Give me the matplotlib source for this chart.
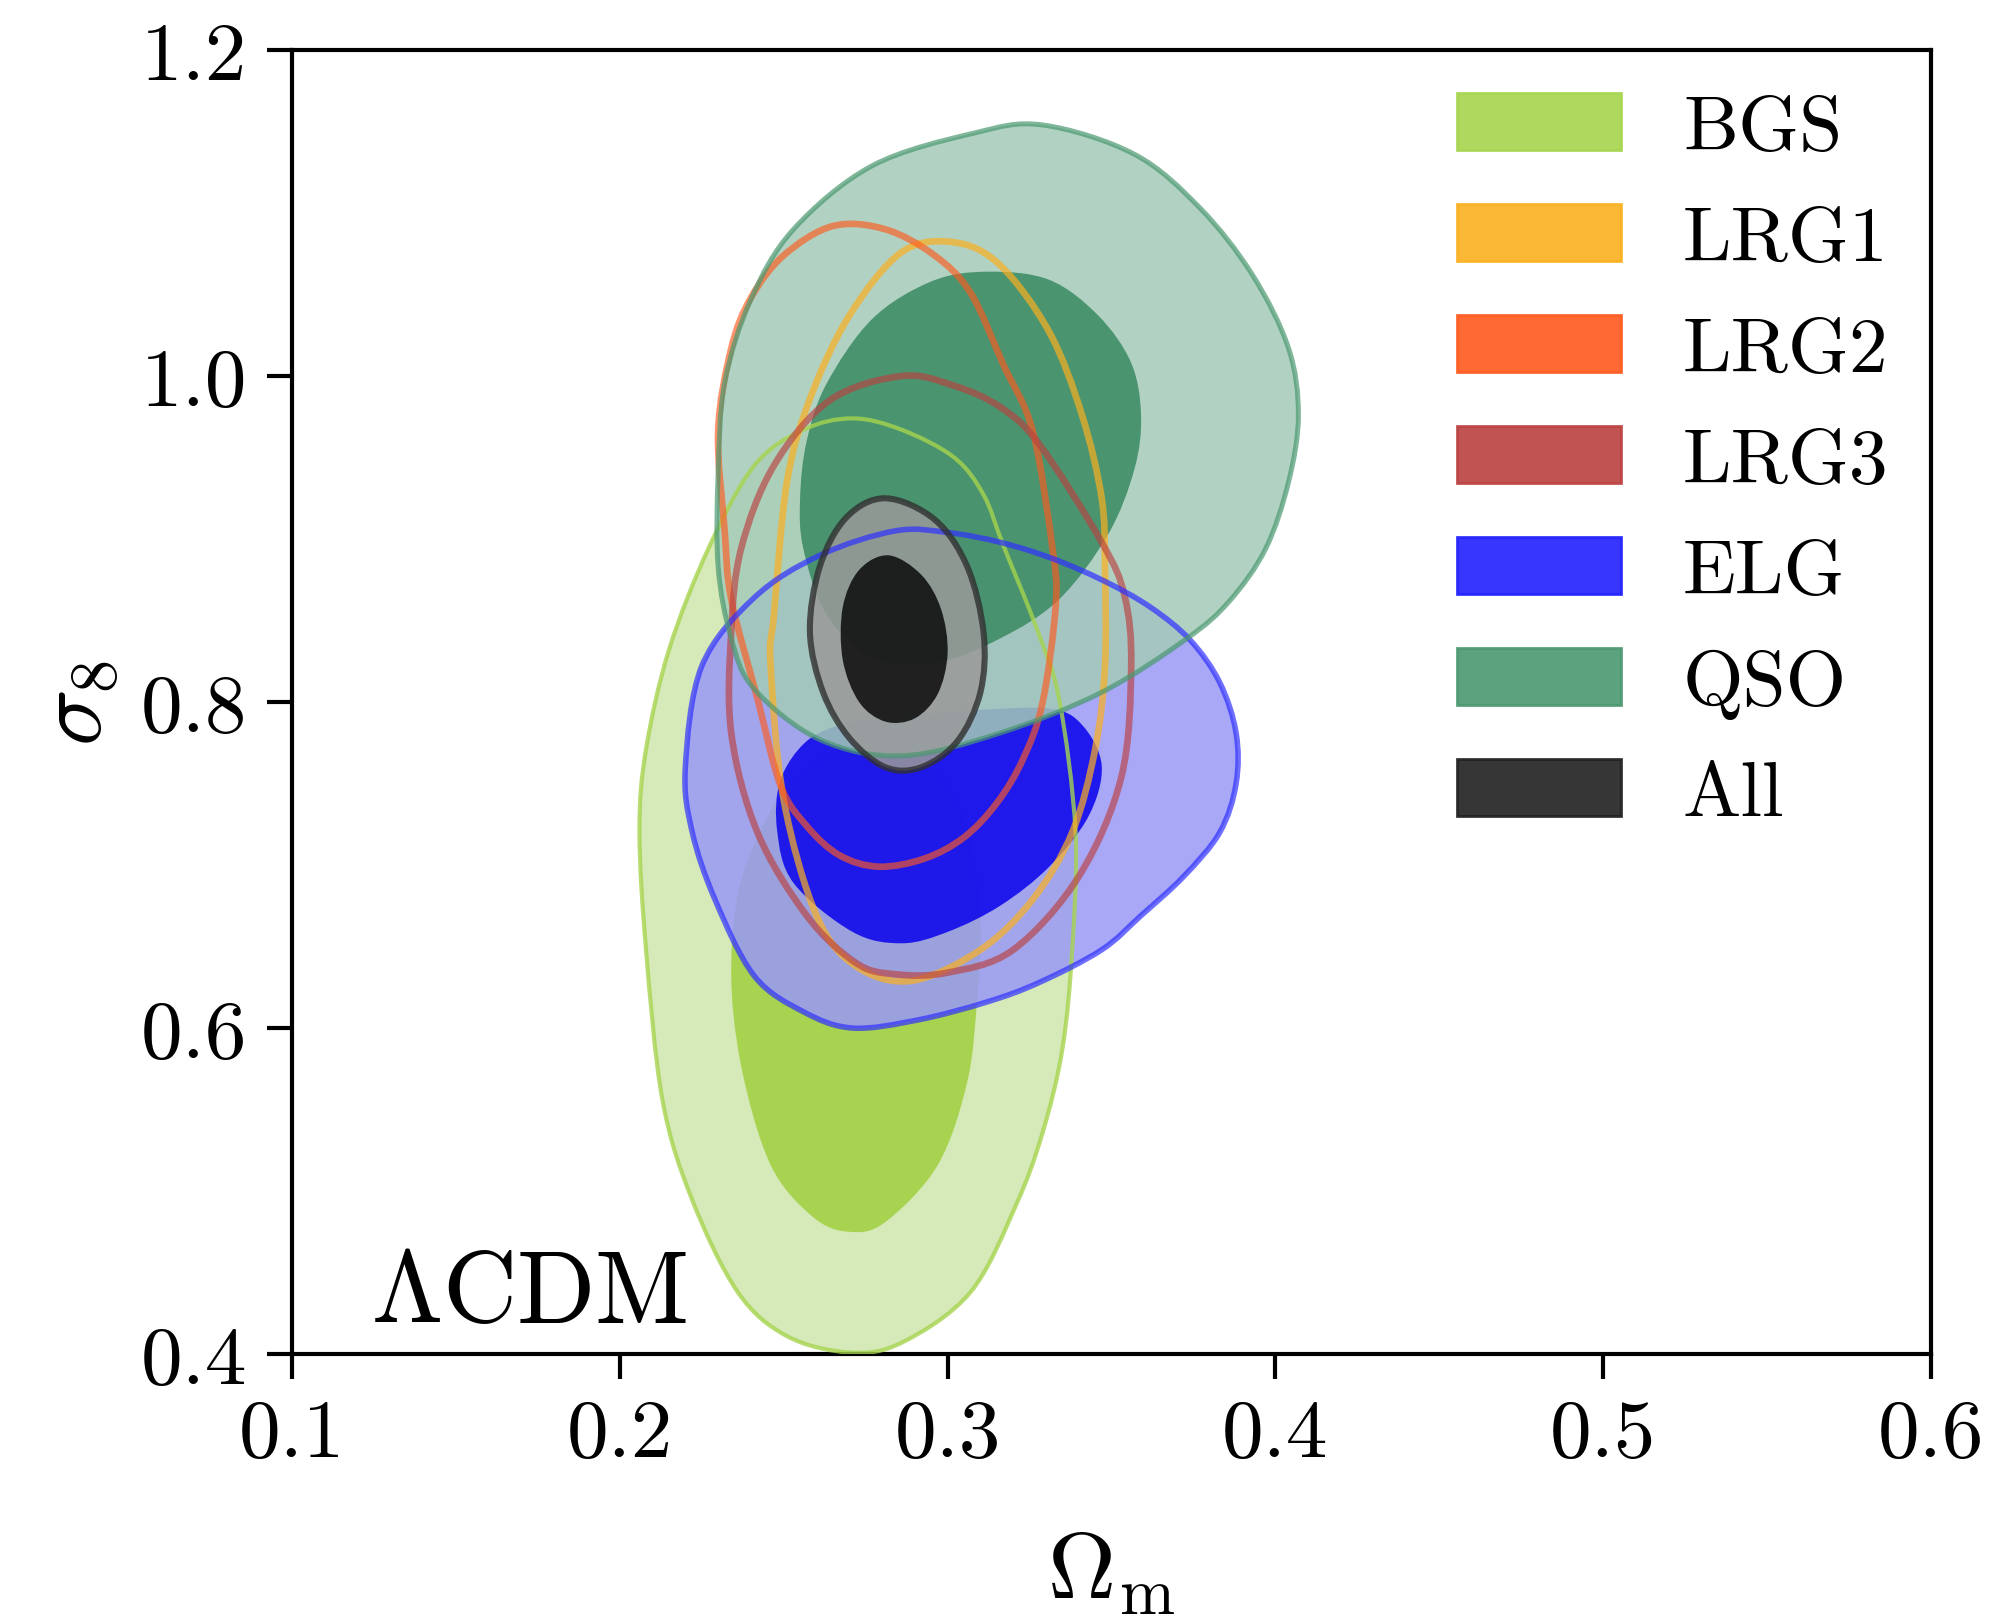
import numpy as np
import matplotlib
matplotlib.use("Agg")
import matplotlib.pyplot as plt
from matplotlib.path import Path
from matplotlib.patches import PathPatch, Patch

plt.rcParams['font.family'] = 'serif'
plt.rcParams['font.serif'] = ['cmr10']
plt.rcParams['mathtext.fontset'] = 'cm'
plt.rcParams['axes.formatter.use_mathtext'] = True

# contour outlines (Omega_m, sigma_8)
bgs_outer_om = [0.271, 0.286, 0.302, 0.311, 0.317, 0.327, 0.334, 0.339, 0.338, 0.335, 0.329, 0.321, 0.307, 0.286,
                0.270, 0.251, 0.236, 0.222, 0.213, 0.208, 0.206, 0.208, 0.215, 0.227, 0.241, 0.256]
bgs_outer_s8 = [0.974, 0.967, 0.950, 0.927, 0.896, 0.846, 0.802, 0.721, 0.648, 0.587, 0.536, 0.492, 0.438, 0.407,
                0.401, 0.411, 0.438, 0.495, 0.556, 0.648, 0.721, 0.771, 0.832, 0.894, 0.945, 0.967]
bgs_inner_om = [0.277, 0.296, 0.306, 0.310, 0.309, 0.306, 0.297, 0.281, 0.270, 0.259, 0.246, 0.237, 0.234, 0.238, 0.253]
bgs_inner_s8 = [0.776, 0.760, 0.721, 0.666, 0.618, 0.567, 0.516, 0.481, 0.475, 0.484, 0.516, 0.577, 0.638, 0.697, 0.752]

elg_outer_om = [0.284, 0.300, 0.316, 0.332, 0.348, 0.362, 0.374, 0.383, 0.388, 0.388, 0.383, 0.372, 0.359, 0.347,
                0.328, 0.312, 0.291, 0.271, 0.256, 0.241, 0.229, 0.222, 0.220, 0.225, 0.241, 0.261]
elg_outer_s8 = [0.905, 0.904, 0.898, 0.888, 0.874, 0.858, 0.838, 0.812, 0.781, 0.750, 0.720, 0.693, 0.669, 0.648,
                0.628, 0.616, 0.605, 0.600, 0.610, 0.632, 0.679, 0.721, 0.760, 0.822, 0.864, 0.890]
elg_inner_om = [0.284, 0.308, 0.331, 0.341, 0.347, 0.343, 0.331, 0.316, 0.300, 0.286, 0.271, 0.253, 0.248, 0.249, 0.257, 0.269]
elg_inner_s8 = [0.791, 0.795, 0.796, 0.786, 0.761, 0.730, 0.699, 0.675, 0.659, 0.652, 0.659, 0.689, 0.721, 0.752, 0.776, 0.787]

qso_outer_om = [0.329, 0.357, 0.377, 0.393, 0.404, 0.407, 0.404, 0.397, 0.386, 0.373, 0.347, 0.316, 0.286,
                0.261, 0.241, 0.234, 0.230, 0.230, 0.232, 0.240, 0.253, 0.277, 0.308]
qso_outer_s8 = [1.154, 1.136, 1.103, 1.062, 1.017, 0.976, 0.935, 0.894, 0.862, 0.839, 0.806, 0.781, 0.767,
                0.777, 0.808, 0.839, 0.883, 0.940, 0.996, 1.047, 1.090, 1.129, 1.149]
qso_inner_om = [0.312, 0.331, 0.346, 0.356, 0.359, 0.357, 0.349, 0.334, 0.316, 0.296, 0.277, 0.263, 0.256, 0.255,
                0.257, 0.263, 0.277, 0.295]
qso_inner_s8 = [1.064, 1.059, 1.037, 1.008, 0.976, 0.943, 0.903, 0.863, 0.839, 0.824, 0.827, 0.854, 0.894, 0.925,
                0.960, 0.995, 1.035, 1.058]

lrg1_om = [0.302, 0.316, 0.331, 0.341, 0.347, 0.348, 0.348, 0.345, 0.338, 0.326, 0.310, 0.289, 0.272, 0.260,
           0.250, 0.246, 0.247, 0.251, 0.258, 0.270, 0.286]
lrg1_s8 = [1.082, 1.068, 1.027, 0.976, 0.925, 0.883, 0.822, 0.771, 0.720, 0.679, 0.648, 0.629, 0.638, 0.669,
           0.740, 0.823, 0.853, 0.935, 0.986, 1.037, 1.076]
lrg2_om = [0.265, 0.281, 0.296, 0.307, 0.317, 0.326, 0.332, 0.333, 0.329, 0.323, 0.315, 0.305, 0.293, 0.279,
           0.267, 0.257, 0.249, 0.242, 0.234, 0.232, 0.230, 0.234, 0.240, 0.250]
lrg2_s8 = [1.092, 1.090, 1.074, 1.051, 1.007, 0.966, 0.894, 0.860, 0.800, 0.765, 0.738, 0.717, 0.704, 0.699,
           0.706, 0.724, 0.749, 0.802, 0.863, 0.905, 0.966, 1.017, 1.048, 1.074]
lrg3_om = [0.286, 0.302, 0.316, 0.328, 0.347, 0.354, 0.356, 0.353, 0.340, 0.320, 0.300, 0.284, 0.272, 0.257,
           0.242, 0.234, 0.234, 0.237, 0.247, 0.264]
lrg3_s8 = [1.000, 0.994, 0.981, 0.958, 0.898, 0.865, 0.822, 0.754, 0.693, 0.648, 0.634, 0.633, 0.640, 0.669,
           0.720, 0.781, 0.843, 0.894, 0.945, 0.985]

all_outer_om = [0.281, 0.296, 0.306, 0.311, 0.310, 0.303, 0.292, 0.281, 0.270, 0.262, 0.258, 0.261, 0.269]
all_outer_s8 = [0.925, 0.912, 0.883, 0.842, 0.806, 0.776, 0.760, 0.760, 0.778, 0.806, 0.843, 0.883, 0.913]
all_inner_om = [0.282, 0.292, 0.298, 0.300, 0.297, 0.290, 0.281, 0.273, 0.268, 0.268, 0.273]
all_inner_s8 = [0.890, 0.878, 0.857, 0.830, 0.805, 0.790, 0.788, 0.800, 0.826, 0.858, 0.881]

labels = ['BGS', 'LRG1', 'LRG2', 'LRG3', 'ELG', 'QSO', 'All']
colors = ['#a6d44e', '#fbb020', '#ff5a1e', '#bb4040', '#2020ff', '#4a9870', '#202020']

xticks = [0.1, 0.2, 0.3, 0.4, 0.5, 0.6]
xtick_labels = ['0.1', '0.2', '0.3', '0.4', '0.5', '0.6']
yticks = [0.4, 0.6, 0.8, 1.0, 1.2]
ytick_labels = ['0.4', '0.6', '0.8', '1.0', '1.2']


def closed_curve(xs, ys):
    # smooth closed curve through the points (catmull-rom as bezier segments)
    pts = np.column_stack([xs, ys])
    n = len(pts)
    verts = [pts[0]]
    codes = [Path.MOVETO]
    for i in range(n):
        p0, p1, p2, p3 = pts[i - 1], pts[i], pts[(i + 1) % n], pts[(i + 2) % n]
        verts += [p1 + (p2 - p0) / 6, p2 - (p3 - p1) / 6, p2]
        codes += [Path.CURVE4] * 3
    verts.append(pts[0])
    codes.append(Path.CLOSEPOLY)
    return Path(verts, codes)


fig = plt.figure(figsize=(10.04, 8.12), dpi=200)
ax = fig.add_axes([0.1454, 0.1656, 0.8163, 0.803])

# filled contours
fills = [
    (bgs_outer_om, bgs_outer_s8, '#cfe6ac'),
    (bgs_inner_om, bgs_inner_s8, '#a0d03e'),
    (elg_outer_om, elg_outer_s8, '#9999f6'),
    (elg_inner_om, elg_inner_s8, '#0800ec'),
    (qso_outer_om, qso_outer_s8, '#a4cbb8'),
    (qso_inner_om, qso_inner_s8, '#388961'),
    (all_outer_om, all_outer_s8, '#9a9a9a'),
    (all_inner_om, all_inner_s8, '#0a0a0a'),
]
for i, (xs, ys, c) in enumerate(fills):
    ax.add_patch(PathPatch(closed_curve(xs, ys), facecolor=c, edgecolor='none', alpha=0.85, zorder=2 + i * 0.1))

# outlines
lines = [
    (bgs_outer_om, bgs_outer_s8, '#a6d44e', 1.5, 0.8),
    (lrg1_om, lrg1_s8, '#fbb020', 2.4, 0.7),
    (lrg2_om, lrg2_s8, '#ff5a1e', 2.4, 0.65),
    (lrg3_om, lrg3_s8, '#bb4040', 2.4, 0.65),
    (elg_outer_om, elg_outer_s8, '#3030ff', 2.0, 0.7),
    (qso_outer_om, qso_outer_s8, '#4a9870', 1.8, 0.7),
    (all_outer_om, all_outer_s8, '#303030', 2.2, 0.8),
]
for i, (xs, ys, c, lw, a) in enumerate(lines):
    ax.add_patch(PathPatch(closed_curve(xs, ys), facecolor='none', edgecolor=c, lw=lw, alpha=a, zorder=4 + i * 0.1))

ax.set_xlim(0.1, 0.6)
ax.set_ylim(0.4, 1.2)
ax.set_xticks(xticks, xtick_labels)
ax.set_yticks(yticks, ytick_labels)
ax.tick_params(direction='out', length=9, width=1.5, labelsize=30, pad=7)
for s in ax.spines.values():
    s.set_linewidth(1.5)

ax.set_xlabel(r'$\Omega_{\rm m}$', fontsize=34)
ax.xaxis.set_label_coords(0.5, -0.135)
ax.set_ylabel(r'$\sigma_8$', fontsize=34)
ax.yaxis.set_label_coords(-0.105, 0.5)

ax.text(0.048, 0.025, r'$\Lambda$CDM', transform=ax.transAxes, fontsize=37, ha='left', va='baseline')

handles = [Patch(facecolor=c, edgecolor=c, alpha=0.9) for c in colors]
ax.legend(handles, labels, loc='upper left', bbox_to_anchor=(0.711, 0.967), frameon=False, fontsize=28,
          handlelength=2.1, handleheight=0.75, handletextpad=0.8, labelspacing=0.52, borderpad=0, borderaxespad=0)

fig.savefig('out.png', dpi=200)
